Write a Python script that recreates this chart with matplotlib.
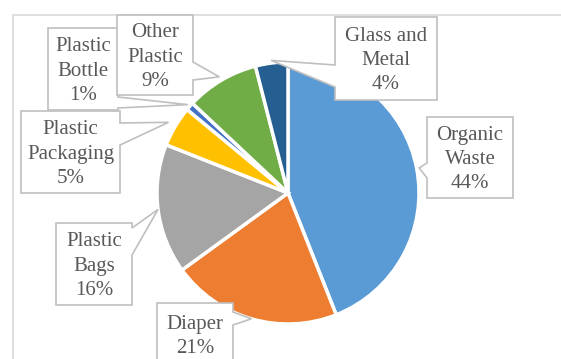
"""
Waste composition pie chart with callout labels.
"""

import numpy as np
import matplotlib
matplotlib.use('Agg')
import matplotlib.pyplot as plt
from matplotlib.patches import Polygon, Rectangle

# data
categories = ['Organic\nWaste', 'Diaper', 'Plastic\nBags', 'Plastic\nPackaging',
              'Plastic\nBottle', 'Other\nPlastic', 'Glass and\nMetal']
shares = [44, 21, 16, 5, 1, 9, 4]
colors = ['#5B9BD5', '#ED7D31', '#A5A5A5', '#FFC000', '#4472C4', '#70AD47', '#255E91']

# layout, in pixels measured from the top-left corner
W, H = 561, 359
CENTER = (288, 193)
RADIUS = 131
# box (x0, y0, x1, y1), side of the pointer, pointer base (y0, y1), tip radius factor
callouts = [
    ((427, 117, 513, 198), 'left', (163, 178), 1.02),
    ((157, 303, 233, 366), 'right', (312, 325), 1.0),
    ((56, 223, 132, 305), 'right', (228, 255), 1.0),
    ((21, 111, 120, 193), 'right', (123, 145), 1.06),
    ((48, 28, 118, 110), 'right', (97, 108), 1.02),
    ((117, 15, 193, 95), 'right', (62, 80), 1.03),
    ((335, 17, 437, 100), 'left', (65, 87), 1.02),
]
draw_order = [0, 1, 2, 4, 3, 5, 6]


def flip(x, y):
    """Pixel coordinates (y down) to data coordinates (y up)."""
    return x, H - y


def draw_callout(ax, box, side, base, tip, text):
    x0, y0, x1, y1 = box
    if side == 'left':
        pts = [(x0, y0), (x1, y0), (x1, y1), (x0, y1), (x0, base[1]), tip, (x0, base[0])]
    else:
        pts = [(x0, y0), (x1, y0), (x1, base[0]), tip, (x1, base[1]), (x1, y1), (x0, y1)]
    poly = Polygon([flip(*p) for p in pts], closed=True, facecolor='white',
                   edgecolor='#BFBFBF', linewidth=1.2, zorder=5, joinstyle='miter')
    ax.add_patch(poly)
    cx, cy = flip((x0 + x1) / 2, (y0 + y1) / 2 + 2)
    ax.text(cx, cy, text, ha='center', va='center', fontsize=15,
            family=['Liberation Serif', 'DejaVu Serif'], color='#595959',
            linespacing=1.38, zorder=6)


fig = plt.figure(figsize=(W / 100, H / 100), dpi=100)
ax = fig.add_axes([0, 0, 1, 1])

ax.pie(shares, colors=colors, startangle=90, counterclock=False,
       center=flip(*CENTER), radius=RADIUS,
       wedgeprops=dict(edgecolor='white', linewidth=2.5))

ax.add_patch(Rectangle(flip(13, 380), 600, 365, fill=False,
                       edgecolor='#D9D9D9', linewidth=1.2, zorder=1))

# mid angle of each wedge, clockwise from the top
fractions = np.array(shares) / np.sum(shares)
mids = 90 - 360 * (np.cumsum(fractions) - fractions / 2)

for i in draw_order:
    box, side, base, k = callouts[i]
    a = np.deg2rad(mids[i])
    tip = (CENTER[0] + k * RADIUS * np.cos(a), CENTER[1] - k * RADIUS * np.sin(a))
    draw_callout(ax, box, side, base, tip, f'{categories[i]}\n{shares[i]}%')

ax.set_xlim(0, W)
ax.set_ylim(0, H)
ax.set_aspect('equal')
ax.axis('off')

fig.savefig('out.png', dpi=100)
